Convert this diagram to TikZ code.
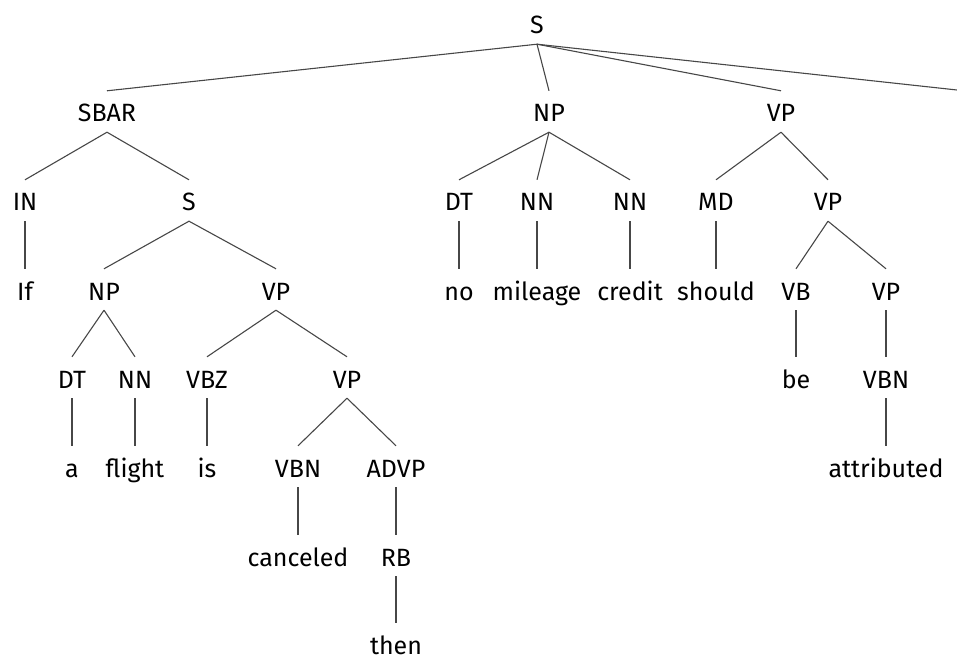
\documentclass[tikz,border=0pt]{standalone}
\usepackage{fontspec}
\setmainfont{Fira Sans}
\begin{document}
\begin{tikzpicture}[x=1pt,y=-1pt,
  tn/.style={anchor=base,inner sep=0pt,text height=31pt,text depth=10pt,
    font=\fontsize{25}{29}\selectfont},
  br/.style={draw=black!72,line width=1.1pt}]
\useasboundingbox (0,0) rectangle (957,660);
% baselines of the rows
\def\ra{34}\def\rb{122}\def\rc{211}\def\rd{300}
\def\re{388}\def\rf{477}\def\rg{566}\def\rh{654}
% row 0-1
\node[tn] (s0) at (537,\ra) {S};
\node[tn] (sbar) at (107,\rb) {SBAR};
\node[tn] (np1) at (549,\rb) {NP};
\node[tn] (vp1) at (781,\rb) {VP};
\coordinate (cut) at (957,90);
% row 2
\node[tn] (in) at (25,\rc) {IN};
\node[tn] (s2) at (189,\rc) {S};
\node[tn] (dt2) at (459,\rc) {DT};
\node[tn] (nn2a) at (537,\rc) {NN};
\node[tn] (nn2b) at (630,\rc) {NN};
\node[tn] (md) at (716,\rc) {MD};
\node[tn] (vp2) at (828,\rc) {VP};
% row 3
\node[tn] (if) at (25,\rd) {If};
\node[tn] (np3) at (104,\rd) {NP};
\node[tn] (vp3) at (276,\rd) {VP};
\node[tn] (no) at (459,\rd) {no};
\node[tn] (mileage) at (537,\rd) {mileage};
\node[tn] (credit) at (630,\rd) {credit};
\node[tn] (should) at (716,\rd) {should};
\node[tn] (vb) at (796,\rd) {VB};
\node[tn] (vp3b) at (886,\rd) {VP};
% row 4
\node[tn] (dt4) at (72,\re) {DT};
\node[tn] (nn4) at (135,\re) {NN};
\node[tn] (vbz) at (207,\re) {VBZ};
\node[tn] (vp4) at (347,\re) {VP};
\node[tn] (be) at (796,\re) {be};
\node[tn] (vbn4) at (886,\re) {VBN};
% row 5
\node[tn] (a) at (72,\rf) {a};
\node[tn] (flight) at (135,\rf) {flight};
\node[tn] (is) at (207,\rf) {is};
\node[tn] (vbn5) at (298,\rf) {VBN};
\node[tn] (advp) at (396,\rf) {ADVP};
\node[tn] (attributed) at (886,\rf) {attributed};
% row 6-7
\node[tn] (canceled) at (298,\rg) {canceled};
\node[tn] (rb) at (396,\rg) {RB};
\node[tn] (then) at (396,\rh) {then};
% branches
\foreach \p/\c in {s0/sbar,s0/np1,s0/vp1,
  sbar/in,sbar/s2,np1/dt2,np1/nn2a,np1/nn2b,vp1/md,vp1/vp2,
  in/if,s2/np3,s2/vp3,dt2/no,nn2a/mileage,nn2b/credit,md/should,vp2/vb,vp2/vp3b,
  np3/dt4,np3/nn4,vp3/vbz,vp3/vp4,vb/be,vp3b/vbn4,
  dt4/a,nn4/flight,vbz/is,vp4/vbn5,vp4/advp,vbn4/attributed,
  vbn5/canceled,advp/rb,rb/then}
  \draw[br] (\p.south) -- (\c.north);
\draw[br] (s0.south) -- (cut);
\end{tikzpicture}
\end{document}
